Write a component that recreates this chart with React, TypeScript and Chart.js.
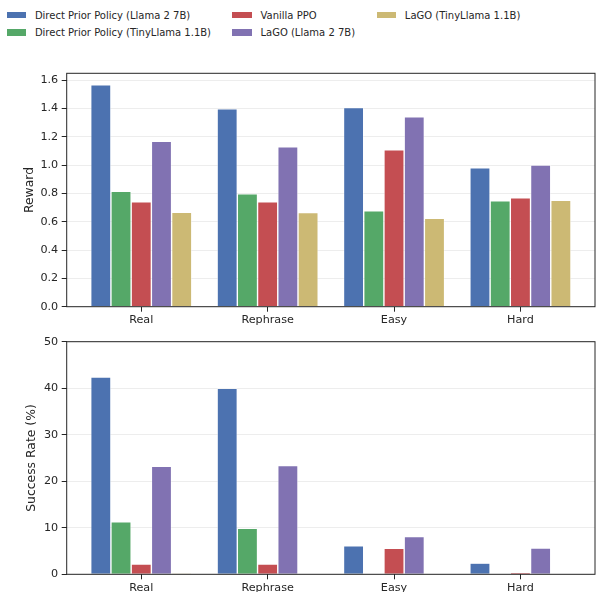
import React, { useEffect, useRef } from "react";
import { Chart, registerables } from "chart.js";

Chart.register(...registerables);

const categories = ["Real", "Rephrase", "Easy", "Hard"];
const seriesNames = [
  "Direct Prior Policy (Llama 2 7B)",
  "Direct Prior Policy (TinyLlama 1.1B)",
  "Vanilla PPO",
  "LaGO (Llama 2 7B)",
  "LaGO (TinyLlama 1.1B)",
];
const seriesColors = ["#4C72B0", "#55A868", "#C44E52", "#8172B2", "#CCB974"];

const rewardDirectLlama = [1.567, 1.398, 1.407, 0.981];
const rewardDirectTiny = [0.815, 0.798, 0.678, 0.748];
const rewardVanillaPPO = [0.741, 0.741, 1.108, 0.769];
const rewardLagoLlama = [1.167, 1.129, 1.341, 1.0];
const rewardLagoTiny = [0.666, 0.664, 0.624, 0.751];

const successDirectLlama = [42.4, 40.0, 6.1, 2.4];
const successDirectTiny = [11.3, 9.9, 0, 0];
const successVanillaPPO = [2.2, 2.2, 5.6, 0.4];
const successLagoLlama = [23.2, 23.4, 8.1, 5.65];
const successLagoTiny = [0.2, 0, 0, 0];

const rewardTicks = [0, 0.2, 0.4, 0.6, 0.8, 1.0, 1.2, 1.4, 1.6];
const successTicks = [0, 10, 20, 30, 40, 50];

const FONT = "'DejaVu Sans', sans-serif";
const INK = "#262626";

const framePlugin = {
  id: "frame",
  afterDraw(chart: any) {
    const { ctx, chartArea } = chart;
    const { left, top, right, bottom } = chartArea;
    ctx.save();
    ctx.strokeStyle = INK;
    ctx.lineWidth = 1;
    ctx.strokeRect(left, top, right - left, bottom - top);
    ctx.restore();
  },
};

type PanelProps = {
  series: number[][];
  yTicks: number[];
  yMax: number;
  yTitle: string;
  decimals: number;
  titlePad: number;
  padTop: number;
  plotHeight: number;
  height: number;
};

function Panel(props: PanelProps) {
  const ref = useRef<HTMLCanvasElement | null>(null);
  useEffect(() => {
    if (!ref.current) return;
    const { series, yTicks, yMax, yTitle, decimals, titlePad, padTop, plotHeight, height } = props;
    const xAxisHeight = height - padTop - plotHeight;
    const chart = new Chart(ref.current, {
      type: "bar",
      data: {
        datasets: series.map((vals, si) => ({
          label: seriesNames[si],
          data: vals.map((v, i) => ({ x: i, y: v })),
          backgroundColor: seriesColors[si],
          borderColor: "rgba(255,255,255,0.6)",
          borderWidth: 0.7,
          categoryPercentage: 0.8,
          barPercentage: 1.0,
        })),
      },
      options: {
        animation: false,
        responsive: true,
        maintainAspectRatio: false,
        layout: { padding: { left: 0, right: 12, top: padTop, bottom: 0 } },
        plugins: { legend: { display: false }, tooltip: { enabled: false } },
        scales: {
          x: {
            type: "linear",
            min: -0.59,
            max: 3.59,
            offset: false,
            bounds: "data",
            afterBuildTicks: (scale: any) => {
              scale.ticks = categories.map((_, i) => ({ value: i }));
            },
            afterFit: (scale: any) => {
              scale.height = xAxisHeight;
            },
            ticks: {
              callback: (v: any) => categories[v] ?? "",
              color: INK,
              font: { family: FONT, size: 11.2 },
              padding: 2,
              maxRotation: 0,
              autoSkip: false,
            },
            grid: {
              offset: false,
              drawOnChartArea: false,
              drawTicks: true,
              tickLength: 5,
              tickColor: INK,
              tickWidth: 1,
            },
            border: { display: false },
          },
          y: {
            min: 0,
            max: yMax,
            afterBuildTicks: (scale: any) => {
              scale.ticks = yTicks.map((v) => ({ value: v }));
            },
            afterFit: (scale: any) => {
              scale.width = 66.7;
            },
            ticks: {
              callback: (v: any) => Number(v).toFixed(decimals),
              color: INK,
              font: { family: FONT, size: 11.2 },
              padding: 3.5,
            },
            grid: {
              color: "rgba(0,0,0,0.07)",
              lineWidth: 1,
              drawTicks: true,
              tickLength: 5,
              tickColor: INK,
              tickWidth: 1,
            },
            border: { display: false },
            title: {
              display: true,
              text: yTitle,
              color: INK,
              font: { family: FONT, size: 12.4, lineHeight: 1.2 },
              padding: { top: titlePad + 0.8, bottom: 0 },
            },
          },
        },
      },
      plugins: [framePlugin],
    });
    return () => chart.destroy();
  }, []);
  return (
    <div style={{ position: "relative", width: 607, height: props.height }}>
      <canvas ref={ref} />
    </div>
  );
}

function Legend() {
  return (
    <div
      style={{
        position: "absolute",
        left: 6.7,
        top: 6.2,
        display: "grid",
        gridTemplateColumns: "225.6px 144.4px auto",
        gridTemplateRows: "17.7px 17.7px",
        gridAutoFlow: "column",
        fontFamily: FONT,
        fontSize: 10,
        color: INK,
        whiteSpace: "nowrap",
      }}
    >
      {seriesNames.map((name, i) => (
        <div key={name} style={{ display: "flex", alignItems: "center" }}>
          <span
            style={{
              display: "inline-block",
              width: 19.5,
              height: 6.8,
              background: seriesColors[i],
              marginRight: 8.7,
            }}
          />
          <span>{name}</span>
        </div>
      ))}
    </div>
  );
}

export default function App() {
  return (
    <div
      style={{
        position: "fixed",
        left: 0,
        top: 0,
        width: 607,
        height: 592,
        overflow: "hidden",
        background: "#fff",
      }}
    >
      <Legend />
      <div style={{ position: "absolute", left: 0, top: 60 }}>
        <Panel
          series={[rewardDirectLlama, rewardDirectTiny, rewardVanillaPPO, rewardLagoLlama, rewardLagoTiny]}
          yTicks={rewardTicks}
          yMax={1.648}
          yTitle="Reward"
          decimals={1}
          titlePad={21.6}
          padTop={13.3}
          plotHeight={233.4}
          height={280}
        />
      </div>
      <div style={{ position: "absolute", left: 0, top: 330 }}>
        <Panel
          series={[successDirectLlama, successDirectTiny, successVanillaPPO, successLagoLlama, successLagoTiny]}
          yTicks={successTicks}
          yMax={50}
          yTitle="Success Rate (%)"
          decimals={0}
          titlePad={23.9}
          padTop={11.7}
          plotHeight={232.6}
          height={300}
        />
      </div>
    </div>
  );
}
